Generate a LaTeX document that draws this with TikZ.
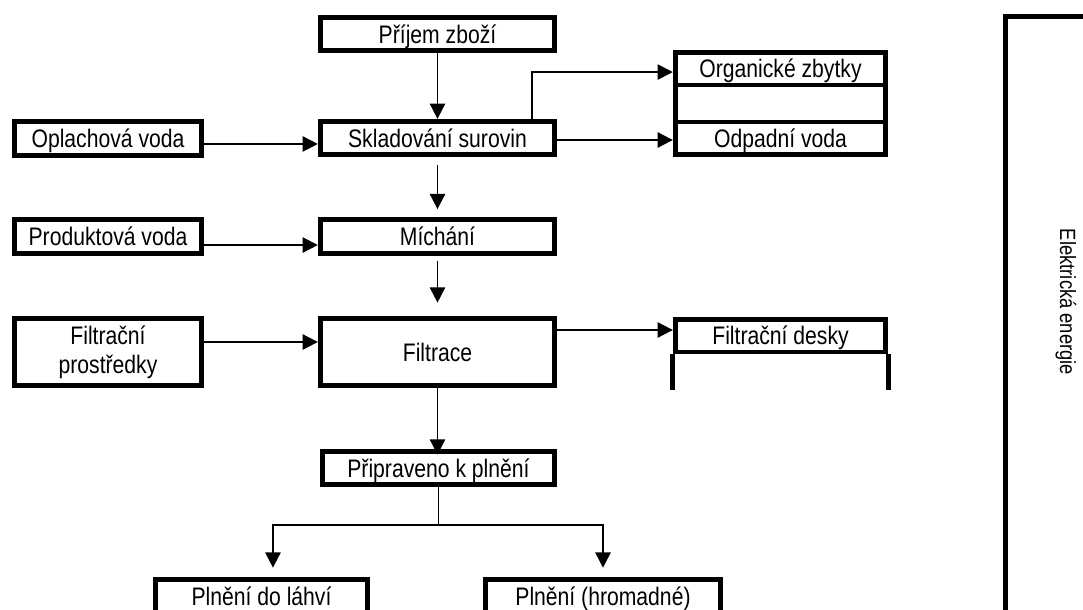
\documentclass[tikz,border=0pt]{standalone}
\usepackage{fontspec}
\setmainfont{Liberation Sans}[FakeStretch=0.835]
\usetikzlibrary{arrows.meta}
\begin{document}
\begin{tikzpicture}[x=0.75pt,y=-0.75pt,
  box/.style={draw, line width=3.6pt, rectangle, inner sep=0pt,
    font=\fontsize{19pt}{21.8pt}\selectfont, text height=13.6pt, text depth=0pt},
  boxtwo/.style={draw, line width=3.6pt, rectangle, inner sep=0pt, align=center,
    font=\fontsize{19pt}{21.8pt}\selectfont},
  mainw/.style={minimum width=175.9pt},
  sidew/.style={minimum width=140.6pt},
  stackw/.style={minimum width=157.9pt},
  oneline/.style={minimum height=25.1pt},
  tall/.style={minimum height=50.6pt},
  flow/.style={line width=1.45pt, -{Triangle[length=11.5pt,width=11.5pt]}},
  plain/.style={line width=1.45pt}]
\useasboundingbox (0,0) rectangle (1083,610);
\clip (0,0) rectangle (1083,610);

% main column
\node[box, mainw, oneline] (prijem) at (437.5,34) {Příjem zboží};
\node[box, mainw, oneline] (sklad) at (437.5,138) {Skladování surovin};
\node[box, mainw, oneline] (mich) at (437.5,236.5) {Míchání};
\node[box, mainw, tall] (filt) at (437.5,352) {Filtrace};
\node[box, minimum width=174.4pt, oneline] (prip) at (438.5,468) {Připraveno k plnění};

% inputs on the left
\node[box, sidew, oneline] (opl) at (108,138.5) {Oplachová voda};
\node[box, sidew, oneline] (prod) at (108,236.5) {Produktová voda};
\node[boxtwo, sidew, tall] (filtp) at (108,352) {Filtrační\\prostředky};

% outputs on the right
\node[box, stackw, minimum height=24.6pt] (org) at (780.5,68.6) {Organické zbytky};
\node[box, stackw, minimum height=27.75pt] (mid) at (780.5,103.5) {};
\node[box, stackw, minimum height=24.6pt] (odp) at (780.5,138.4) {Odpadní voda};
\node[box, stackw, minimum height=24.6pt] (desky) at (780.5,335.6) {Filtrační desky};
\draw[line width=3.6pt] (desky.south west) -- ++(0,36);
\draw[line width=3.6pt] (desky.south east) -- ++(0,36);

% filling
\node[box, minimum width=159.4pt, oneline] (lahve) at (261.5,596) {Plnění do láhví};
\node[box, minimum width=176.6pt, oneline] (hrom) at (603,596) {Plnění (hromadné)};

% energy frame
\draw[line width=3.6pt] (1200,16.25) -- (1005.25,16.25) -- (1005.25,700);
\node[rotate=-90, font=\fontsize{16.5pt}{19pt}\selectfont] (elec) at (1066,302) {Elektrická energie};

% flow along the main column
\draw[flow] (prijem.south) -- (sklad.north);
\draw[flow, shorten <=6.2pt, shorten >=6.2pt] (sklad.south) -- (mich.north);
\draw[flow, shorten <=3.9pt, shorten >=9.9pt] (mich.south) -- (filt.north);
\draw[flow, shorten >=-4.3pt] (filt.south) -- (filt.south |- prip.north);

% inputs
\coordinate (o1) at ([yshift=-4.1pt]opl.east);
\draw[flow] (o1) -- (o1 -| sklad.west);
\coordinate (p1) at ([yshift=-6.4pt]prod.east);
\draw[flow] (p1) -- (p1 -| mich.west);
\coordinate (f0) at ([yshift=7.5pt]filtp.east);
\draw[flow] (f0) -- (f0 -| filt.west);

% outputs
\coordinate (b1) at (532,138);
\coordinate (o2) at ([yshift=-2.6pt]org.west);
\draw[flow] (sklad.north -| b1) |- (o2);
\coordinate (s1) at ([yshift=-1.5pt]sklad.east);
\draw[flow] (s1) -- (s1 -| odp.west);
\coordinate (f1) at ([yshift=16.5pt]filt.east);
\draw[flow] (f1) -- (f1 -| desky.west);

% split to the two filling lines
\coordinate (sp) at (438.5,525);
\coordinate (l1) at ([xshift=8.6pt]lahve.north);
\draw[plain] (prip.south) -- (sp);
\draw[flow, shorten >=6.9pt] (sp) -| (l1);
\draw[flow, shorten >=6.9pt] (sp) -| (hrom.north);
\end{tikzpicture}
\end{document}
